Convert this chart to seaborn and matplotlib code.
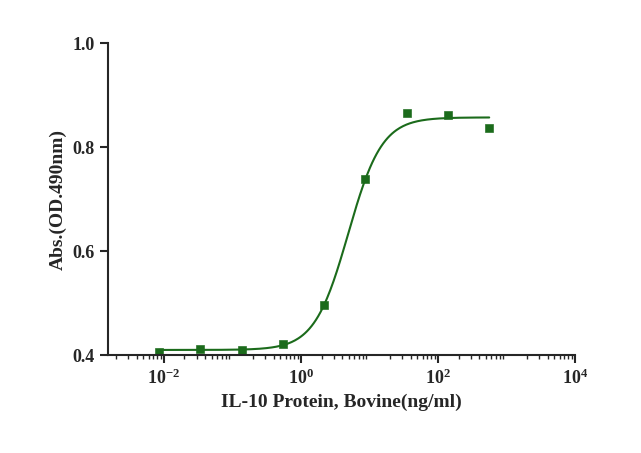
import numpy as np
import pandas as pd
import matplotlib.pyplot as plt
import seaborn as sns
from matplotlib.ticker import LogLocator, FixedLocator

# measured points (4-fold dilution)
conc = [560, 140, 35, 8.75, 2.19, 0.547, 0.137, 0.0342, 0.00855]
absorb = [0.837, 0.862, 0.865, 0.738, 0.496, 0.421, 0.410, 0.412, 0.406]

# 4PL fit parameters
bottom, top, ec50, hill = 0.410, 0.857, 4.9, 1.76

df = pd.DataFrame({'conc': conc, 'abs': absorb})
xs = np.logspace(np.log10(0.00855), np.log10(560), 300)
fit = pd.DataFrame({'conc': xs, 'abs': bottom + (top - bottom) / (1 + (ec50 / xs) ** hill)})

sns.set_style('ticks')
plt.rcParams['font.family'] = 'Liberation Serif'
plt.rcParams['font.weight'] = 'bold'

fig = plt.figure(figsize=(6.41, 4.53), dpi=100)
ax = fig.add_axes([0.168, 0.216, 0.729, 0.689])
green = '#1b6b1b'
sns.lineplot(data=fit, x='conc', y='abs', color=green, linewidth=1.5, ax=ax)
sns.scatterplot(data=df, x='conc', y='abs', marker='s', s=30, color=green, edgecolor=green, ax=ax)

ax.set_xscale('log')
ax.set_xlim(10 ** -2.82, 1e4)
ax.set_ylim(0.4, 1.0)
ax.set_xticks([1e-2, 1, 1e2, 1e4])
ax.xaxis.set_minor_locator(LogLocator(base=10, subs=np.arange(2, 10), numticks=20))
ax.yaxis.set_major_locator(FixedLocator([0.4, 0.6, 0.8, 1.0]))
ax.set_yticklabels(['0.4', '0.6', '0.8', '1.0'])
ax.tick_params(axis='both', which='major', length=6, width=1.5, labelsize=13, direction='out')
ax.tick_params(axis='x', which='minor', length=3, width=1)
for s in ['top', 'right']:
    ax.spines[s].set_visible(False)
for s in ['left', 'bottom']:
    ax.spines[s].set_linewidth(1.5)
ax.set_xlabel('IL-10 Protein, Bovine(ng/ml)', fontsize=14, fontweight='bold')
ax.set_ylabel('Abs.(OD.490nm)', fontsize=14, fontweight='bold')

plt.savefig('out.png', dpi=100)
